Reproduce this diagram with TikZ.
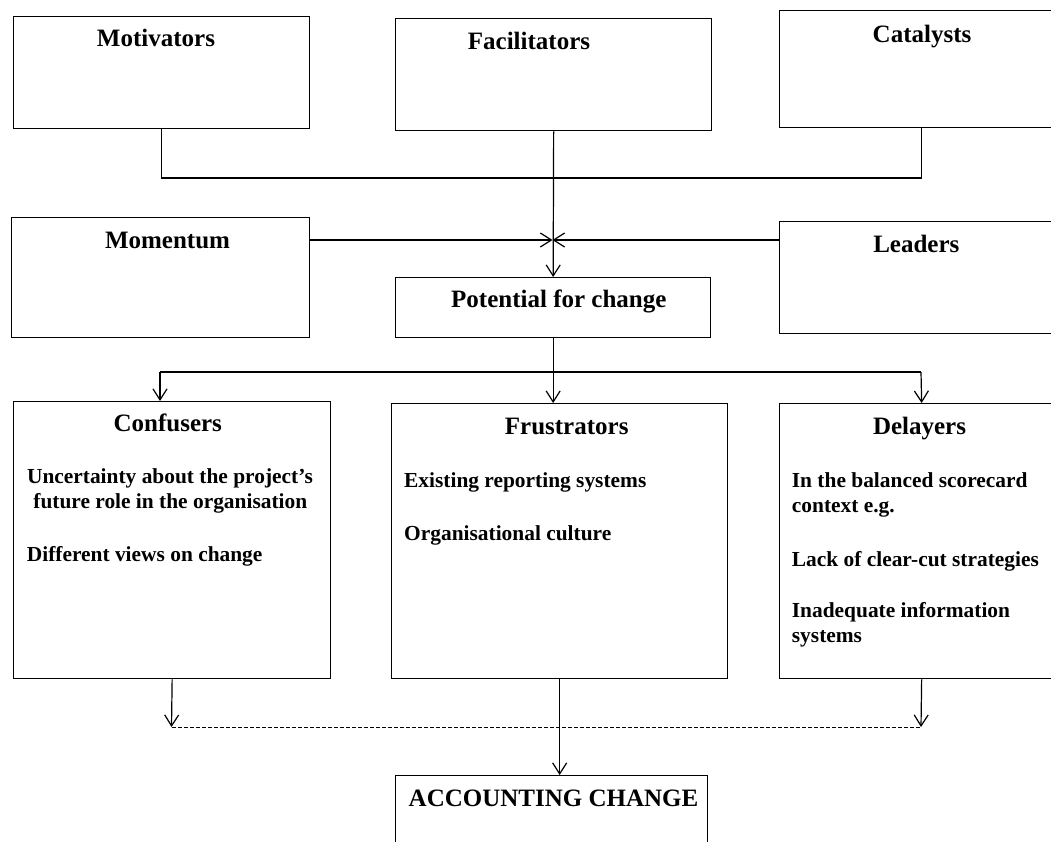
\documentclass[tikz,border=0pt]{standalone}
\usepackage{fontspec}
\setmainfont{Liberation Serif}
\usetikzlibrary{arrows.meta}

\begin{document}
\begin{tikzpicture}[x=1pt,y=-1pt,
  box/.style={draw,line width=1.3pt,rectangle,inner sep=0pt,anchor=north west},
  hd/.style={font=\fontsize{25}{30}\selectfont\bfseries,inner sep=0pt,anchor=base},
  bd/.style={font=\fontsize{21.4}{25}\selectfont\bfseries,inner sep=0pt,anchor=base west},
  bdc/.style={bd,anchor=base},
  conn/.style={line width=1.2pt},
  arr/.style={conn,-{Straight Barb[length=11pt,width=14pt]}},
  dashline/.style={line width=1pt,dash pattern=on 4pt off 2pt}]

\useasboundingbox (0,0) rectangle (1051,841);
\fill[white] (0,0) rectangle (1051,841);
\clip (0,0) rectangle (1051,841);

% top row
\node[box,minimum width=296pt,minimum height=112pt] (mot) at (13,16) {};
\node[box,minimum width=316pt,minimum height=112pt] (fac) at (395,18) {};
\node[box,minimum width=284pt,minimum height=117pt] (cat) at (779,10) {};
\node[hd] (tmot) at (156,46.7) {Motivators};
\node[hd] (tfac) at (529,49.3) {Facilitators};
\node[hd] (tcat) at (922,42) {Catalysts};

% middle row
\node[box,minimum width=298pt,minimum height=120pt] (mom) at (11,217) {};
\node[box,minimum width=315pt,minimum height=60pt] (pot) at (395,277) {};
\node[box,minimum width=284pt,minimum height=112pt] (lead) at (779,221) {};
\node[hd] (tmom) at (167.5,248.3) {Momentum};
\node[hd] (tpot) at (558.8,307.7) {Potential for change};
\node[hd] (tlead) at (916.3,252.3) {Leaders};

% lower row
\node[box,minimum width=317pt,minimum height=277pt] (conf) at (13,401) {};
\node[box,minimum width=336pt,minimum height=275pt] (frus) at (391,403) {};
\node[box,minimum width=284pt,minimum height=275pt] (del) at (779,403) {};

\node[hd] (tconf) at (167.8,431.7) {Confusers};
\node[bdc] (c1) at (170,483.3) {Uncertainty about the project’s};
\node[bdc] (c2) at (170.3,508.3) {future role in the organisation};
\node[bd] (c3) at (26.7,561.7) {Different views on change};

\node[hd] (tfrus) at (566.7,434.3) {Frustrators};
\node[bd] (f1) at (404,487.3) {Existing reporting systems};
\node[bd] (f2) at (404,540) {Organisational culture};

\node[hd] (tdel) at (919.5,434.3) {Delayers};
\node[bd] (d1) at (791.7,487.5) {In the balanced scorecard};
\node[bd] (d2) at (791.7,512.5) {context e.g.};
\node[bd] (d3) at (791.7,566) {Lack of clear-cut strategies};
\node[bd] (d4) at (791.7,617) {Inadequate information};
\node[bd] (d5) at (791.7,642) {systems};

% outcome
\node[box,minimum width=312pt,minimum height=80pt] (acc) at (395,775) {};
\node[hd] (tacc) at (553.5,806) {ACCOUNTING CHANGE};

% connectors: top row into potential for change
\coordinate (bar) at (0,178);
\draw[conn] (mot.south) |- (bar -| cat.south) -- (cat.south);
\coordinate (j) at (552.5,240);
\draw[arr] (fac.south) -- (pot.north);
\draw[arr] (mom.east |- j) -- (j);
\draw[arr] (lead.west |- j) -- (j);

% potential for change to the three groups
\coordinate (sl) at (160,372);
\coordinate (sr) at (921,372);
\draw[conn] (sl) -- (sr);
\draw[arr] (sl) -- (sl |- conf.north);
\draw[arr] (pot.south) -- (pot.south |- frus.north);
\draw[arr] (sr) -- (del.north);

% groups to accounting change
\coordinate (dl) at (171.5,727);
\coordinate (dr) at (921,727);
\draw[arr] (conf.south) -- (dl);
\draw[arr] (del.south) -- (dr);
\draw[dashline] (dl) -- (dr);
\draw[arr] (frus.south) -- (frus.south |- acc.north);
\end{tikzpicture}
\end{document}
